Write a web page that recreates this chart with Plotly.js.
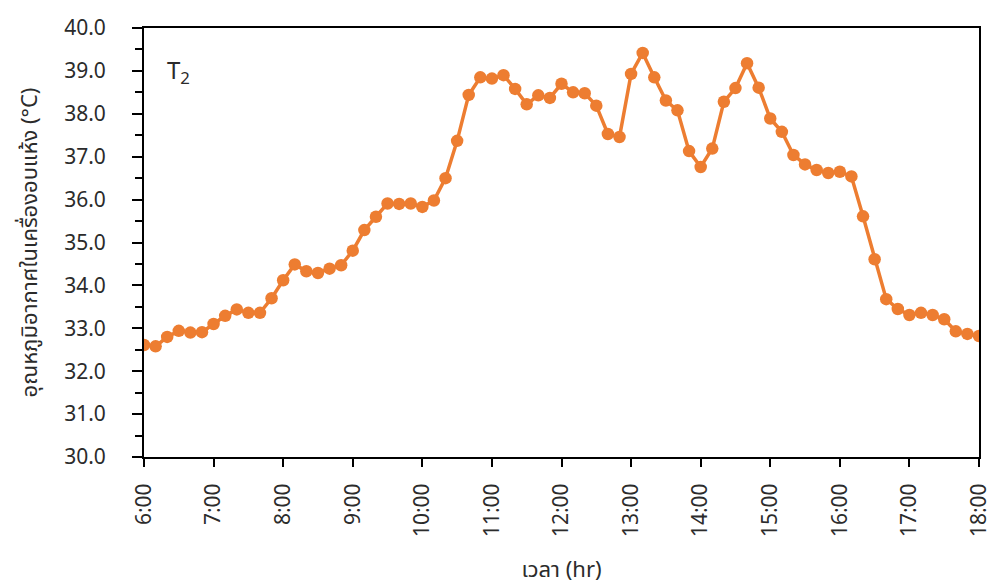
<!DOCTYPE html>
<html>
<head>
<meta charset="utf-8">
<script src="https://cdn.plot.ly/plotly-3.0.1.min.js"></script>
<style>html,body{margin:0;padding:0;background:#fff;}#chart{width:991px;height:584px;}</style>
</head>
<body>
<div id="chart"></div>
<script>
const times = ["6:00","6:10","6:20","6:30","6:40","6:50",
  "7:00","7:10","7:20","7:30","7:40","7:50",
  "8:00","8:10","8:20","8:30","8:40","8:50",
  "9:00","9:10","9:20","9:30","9:40","9:50",
  "10:00","10:10","10:20","10:30","10:40","10:50",
  "11:00","11:10","11:20","11:30","11:40","11:50",
  "12:00","12:10","12:20","12:30","12:40","12:50",
  "13:00","13:10","13:20","13:30","13:40","13:50",
  "14:00","14:10","14:20","14:30","14:40","14:50",
  "15:00","15:10","15:20","15:30","15:40","15:50",
  "16:00","16:10","16:20","16:30","16:40","16:50",
  "17:00","17:10","17:20","17:30","17:40","17:50",
  "18:00"];
const tempT2 = [32.61,32.58,32.80,32.94,32.90,32.91,
  33.10,33.29,33.44,33.36,33.36,33.70,
  34.12,34.49,34.33,34.29,34.39,34.47,
  34.81,35.29,35.60,35.91,35.90,35.91,
  35.83,35.98,36.50,37.37,38.44,38.85,
  38.82,38.90,38.58,38.22,38.43,38.37,
  38.70,38.50,38.48,38.19,37.53,37.46,
  38.93,39.42,38.85,38.31,38.08,37.13,
  36.76,37.19,38.28,38.60,39.18,38.61,
  37.89,37.58,37.04,36.82,36.69,36.62,
  36.65,36.54,35.61,34.61,33.68,33.45,
  33.31,33.36,33.31,33.21,32.93,32.87,
  32.82];
const hourTicks = ["6:00","7:00","8:00","9:00","10:00","11:00","12:00","13:00","14:00","15:00","16:00","17:00","18:00"];
const yTicks = [30,31,32,33,34,35,36,37,38,39,40];
const yTickText = ["30.0","31.0","32.0","33.0","34.0","35.0","36.0","37.0","38.0","39.0","40.0"];

const fontFam = "'Noto Sans', 'Noto Sans Thai', sans-serif";
const txtColor = '#2b2b2b';
const trace = {
  x: times, y: tempT2, type: 'scatter', mode: 'lines+markers',
  line: {color: '#ED7D31', width: 3.5},
  marker: {color: '#ED7D31', size: 12.5},
  hoverinfo: 'skip', showlegend: false
};
const layout = {
  width: 991, height: 584,
  margin: {l: 144, r: 12, t: 28, b: 127},
  paper_bgcolor: '#fff', plot_bgcolor: '#fff',
  font: {family: fontFam, color: txtColor, size: 21},
  xaxis: {
    type: 'category', range: [0, 72],
    tickvals: hourTicks, ticktext: hourTicks,
    tickangle: -90, ticks: 'outside', ticklen: 8, tickwidth: 2, tickcolor: '#000',
    showline: true, linecolor: '#000', linewidth: 2, mirror: true,
    showgrid: false, zeroline: false,
    tickfont: {family: fontFam, size: 21, color: txtColor},
    ticklabelstandoff: 8,
    title: {text: 'เวลา (hr)', font: {family: fontFam, size: 22, color: txtColor}, standoff: 26}
  },
  yaxis: {
    range: [30, 40], tickvals: yTicks, ticktext: yTickText,
    ticks: 'outside', ticklen: 10, tickwidth: 2, tickcolor: '#000',
    minor: {dtick: 0.5, ticks: 'outside', ticklen: 7, tickwidth: 2, tickcolor: '#000', showgrid: false},
    showline: true, linecolor: '#000', linewidth: 2, mirror: true,
    showgrid: false, zeroline: false,
    tickfont: {family: fontFam, size: 21, color: txtColor},
    ticklabelstandoff: 22,
    title: {text: 'อุณหภูมิอากาศในเครื่องอบแห้ง (°C)', font: {family: fontFam, size: 22, color: txtColor}, standoff: 20}
  },
  annotations: [{
    text: 'T<sub>2</sub>', xref: 'paper', yref: 'paper', x: 0.025, y: 0.9,
    xanchor: 'left', yanchor: 'middle', showarrow: false,
    font: {family: fontFam, size: 24, color: txtColor}
  }]
};
Plotly.newPlot('chart', [trace], layout, {staticPlot: true, displayModeBar: false});
</script>
</body>
</html>
